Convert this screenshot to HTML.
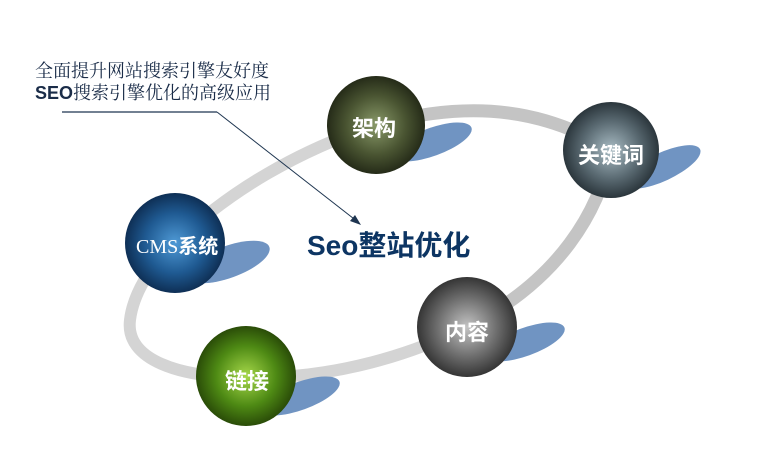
<!DOCTYPE html>
<html><head><meta charset="utf-8"><style>
html,body{margin:0;padding:0;background:#fff}
body{width:763px;height:458px;overflow:hidden;position:relative;font-family:"Liberation Sans","Noto Sans CJK SC",sans-serif}
.t{position:absolute;white-space:nowrap}
</style></head><body>
<svg width="763" height="458" style="position:absolute;left:0;top:0">
<defs>
<radialGradient id="g1" cx="50%" cy="50%" r="50%"><stop offset="0" stop-color="#8a9a6a"/><stop offset="0.6" stop-color="#4a5532"/><stop offset="1" stop-color="#252b18"/></radialGradient>
<radialGradient id="g2" cx="50%" cy="50%" r="50%"><stop offset="0" stop-color="#a9bcc4"/><stop offset="0.6" stop-color="#5a6a72"/><stop offset="1" stop-color="#2b363c"/></radialGradient>
<radialGradient id="g3" cx="50%" cy="50%" r="50%"><stop offset="0" stop-color="#c4c4c4"/><stop offset="0.6" stop-color="#6d6d6d"/><stop offset="1" stop-color="#353535"/></radialGradient>
<radialGradient id="g4" cx="50%" cy="50%" r="50%"><stop offset="0" stop-color="#a6d84a"/><stop offset="0.6" stop-color="#4e8a14"/><stop offset="1" stop-color="#2a4c08"/></radialGradient>
<radialGradient id="g5" cx="50%" cy="50%" r="50%"><stop offset="0" stop-color="#4f9ad6"/><stop offset="0.6" stop-color="#1f5a92"/><stop offset="1" stop-color="#0e2f55"/></radialGradient>
</defs>
<path d="M175,243 C230,190 300,150 376,125 C450,105 530,100 611,150 C600,210 560,280 467,327 C400,360 320,380 246,377 C180,378 125,360 130,320 C133,295 150,265 175,243 Z" fill="none" stroke="#d4d4d4" stroke-width="12"/>
<path d="M376,125 C450,105 530,100 611,150 C600,210 560,280 467,327" fill="none" stroke="#c4c4c4" stroke-width="13"/>
<g fill="#7094c2">
<ellipse cx="432" cy="142" rx="42" ry="14" transform="rotate(-20 432 142)"/>
<ellipse cx="662" cy="167" rx="42" ry="14" transform="rotate(-25 662 167)"/>
<ellipse cx="525" cy="342" rx="42" ry="14" transform="rotate(-20 525 342)"/>
<ellipse cx="300" cy="396" rx="42" ry="14" transform="rotate(-20 300 396)"/>
<ellipse cx="228" cy="262" rx="44" ry="16" transform="rotate(-20 228 262)"/>
</g>
<circle cx="376" cy="125" r="49" fill="url(#g1)"/>
<circle cx="611" cy="150" r="48" fill="url(#g2)"/>
<circle cx="467" cy="327" r="50" fill="url(#g3)"/>
<circle cx="246" cy="376" r="50" fill="url(#g4)"/>
<circle cx="175" cy="243" r="50" fill="url(#g5)"/>
<line x1="62" y1="112" x2="217" y2="112" stroke="#1e3550" stroke-width="1.2"/>
<line x1="217" y1="112" x2="358" y2="222" stroke="#1e3550" stroke-width="1"/>
<polygon points="361,225 350,221 355,215" fill="#1e3550"/>
</svg>
<div class="t" style="left:35px;top:57px;font-size:18px;color:#1a2c48;font-family:'Noto Serif CJK SC','Liberation Serif',serif">全面提升网站搜索引擎友好度</div>
<div class="t" style="left:35px;top:79px;font-size:18px;color:#1a2c48;font-weight:bold"><span>SEO</span><span style="font-weight:normal;font-family:'Noto Serif CJK SC',serif">搜索引擎优化的高级应用</span></div>
<div class="t" style="left:307px;top:224px;font-size:28px;font-weight:bold;color:#0d3563">Seo整站优化</div>
<div class="t" style="left:352px;top:111px;font-size:22px;font-weight:bold;color:#fff">架构</div>
<div class="t" style="left:578px;top:138px;font-size:22px;font-weight:bold;color:#fff">关键词</div>
<div class="t" style="left:445px;top:315px;font-size:22px;font-weight:bold;color:#fff">内容</div>
<div class="t" style="left:225px;top:364px;font-size:22px;font-weight:bold;color:#fff">链接</div>
<div class="t" style="left:136px;top:230px;font-size:20px;color:#fff;font-family:'Liberation Serif','Noto Sans CJK SC',serif"><span>CMS</span><b style="font-family:'Noto Sans CJK SC',sans-serif">系统</b></div>
</body></html>
